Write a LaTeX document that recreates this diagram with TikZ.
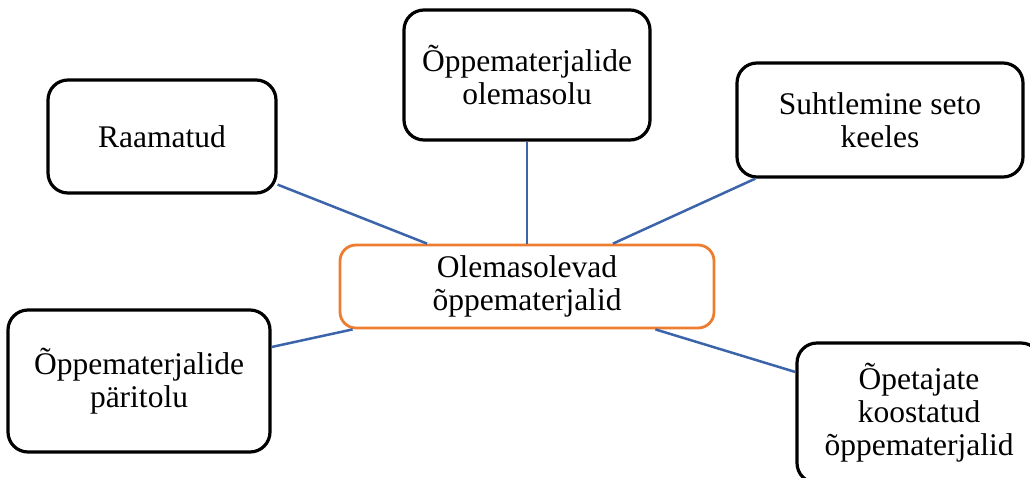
\documentclass[tikz,border=0pt]{standalone}
\usepackage{fontspec}
\setmainfont{Liberation Serif}
\usetikzlibrary{calc}
\definecolor{boxorange}{RGB}{237,125,49}
\definecolor{linkblue}{RGB}{60,100,170}
\begin{document}
\begin{tikzpicture}[x=1pt,y=-1pt,
  box/.style={draw=black,line width=3.2pt,rounded corners=20pt,fill=white,
    rectangle,align=center,inner sep=0pt,
    font=\fontsize{31.5}{33}\selectfont},
  centerbox/.style={box,draw=boxorange,line width=2.8pt,rounded corners=16pt},
  link/.style={draw=linkblue,line width=2.5pt}]
\clip (0,0) rectangle (1030,477);
\fill[white] (0,0) rectangle (1030,477);
\node[box,minimum width=228pt,minimum height=113pt] (rm) at (162,136.5) {Raamatud};
\node[box,minimum width=246pt,minimum height=130pt] (ol) at (527,75) {Õppematerjalide\\olemasolu};
\node[box,minimum width=286pt,minimum height=114pt] (st) at (880,120) {Suhtlemine seto\\keeles};
\node[centerbox,minimum width=374pt,minimum height=83pt] (c) at (527,286.5) {Olemasolevad\\õppematerjalid};
\node[box,minimum width=262pt,minimum height=142pt] (pr) at (139,381) {Õppematerjalide\\päritolu};
\node[box,minimum width=244pt,minimum height=140pt] (ok) at (919,413) {Õpetajate\\koostatud\\õppematerjalid};
\draw[link] ($(rm.south east)+(0,-10)$) -- ($(c.north)+(-100,0)$);
\draw[link] (ol.south) -- (c.north);
\draw[link] ($(st.south west)+(20,0)$) -- ($(c.north)+(86,0)$);
\draw[link] ($(pr.east)+(0,-34)$) -- ($(c.south west)+(14,0)$);
\draw[link] ($(c.south east)+(-60,0)$) -- ($(ok.west)+(0,-41)$);
\end{tikzpicture}
\end{document}
